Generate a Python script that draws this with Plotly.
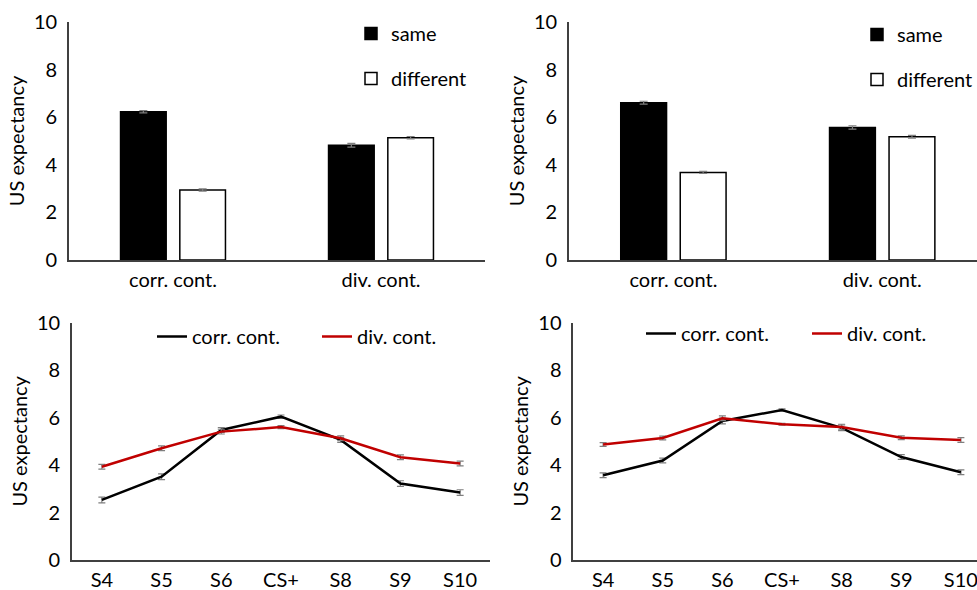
import plotly.graph_objects as go

# ---------------- data ----------------
bar_categories = ["corr. cont.", "div. cont."]
bar_series = ["same", "different"]

# top-left panel
tl_same = [6.23, 4.82]
tl_same_err = [0.05, 0.08]
tl_diff = [2.94, 5.14]
tl_diff_err = [0.05, 0.05]

# top-right panel
tr_same = [6.61, 5.57]
tr_same_err = [0.06, 0.07]
tr_diff = [3.68, 5.18]
tr_diff_err = [0.04, 0.06]

line_categories = ["S4", "S5", "S6", "CS+", "S8", "S9", "S10"]
line_series = ["corr. cont.", "div. cont."]

# bottom-left panel
bl_corr = [2.53, 3.51, 5.48, 6.04, 5.06, 3.22, 2.84]
bl_corr_err = [0.12, 0.12, 0.10, 0.07, 0.10, 0.12, 0.12]
bl_div = [3.93, 4.71, 5.41, 5.60, 5.13, 4.33, 4.07]
bl_div_err = [0.10, 0.10, 0.10, 0.06, 0.10, 0.10, 0.10]

# bottom-right panel
br_corr = [3.57, 4.19, 5.86, 6.32, 5.57, 4.34, 3.70]
br_corr_err = [0.10, 0.10, 0.12, 0.05, 0.12, 0.10, 0.10]
br_div = [4.87, 5.14, 5.97, 5.72, 5.60, 5.15, 5.06]
br_div_err = [0.08, 0.08, 0.10, 0.04, 0.12, 0.08, 0.10]

y_ticks = [0, 2, 4, 6, 8, 10]

# ---------------- styling ----------------
FONT = "Lato"
FS = 20
RED = "#C00000"
ERR = "#7f7f7f"
AX = "#404040"

W, H = 977, 590

fig = go.Figure()


def bar_pair(same, same_err, diff, diff_err, xa, ya, legend):
    fig.add_trace(go.Bar(
        x=bar_categories, y=same, name=bar_series[0],
        marker=dict(color="black", line=dict(color="black", width=1.5)),
        error_y=dict(type="data", array=same_err, color=ERR, thickness=1.2, width=4),
        xaxis=xa, yaxis=ya, legend=legend, legendgroup=legend + "a",
    ))
    fig.add_trace(go.Bar(
        x=bar_categories, y=diff, name=bar_series[1],
        marker=dict(color="white", line=dict(color="black", width=1.5)),
        error_y=dict(type="data", array=diff_err, color=ERR, thickness=1.2, width=4),
        xaxis=xa, yaxis=ya, legend=legend, legendgroup=legend + "b",
    ))


def line_pair(corr, corr_err, div, div_err, xa, ya, legend):
    fig.add_trace(go.Scatter(
        x=line_categories, y=corr, name=line_series[0], mode="lines",
        line=dict(color="black", width=2.5),
        error_y=dict(type="data", array=corr_err, color=ERR, thickness=1.2, width=3.5),
        xaxis=xa, yaxis=ya, legend=legend,
    ))
    fig.add_trace(go.Scatter(
        x=line_categories, y=div, name=line_series[1], mode="lines",
        line=dict(color=RED, width=2.5),
        error_y=dict(type="data", array=div_err, color=ERR, thickness=1.2, width=3.5),
        xaxis=xa, yaxis=ya, legend=legend,
    ))


bar_pair(tl_same, tl_same_err, tl_diff, tl_diff_err, "x", "y", "legend")
bar_pair(tr_same, tr_same_err, tr_diff, tr_diff_err, "x2", "y2", "legend2")
line_pair(bl_corr, bl_corr_err, bl_div, bl_div_err, "x3", "y3", "legend3")
line_pair(br_corr, br_corr_err, br_div, br_div_err, "x4", "y4", "legend4")

axis_common = dict(showline=True, linecolor=AX, linewidth=1.6, showgrid=False,
                   zeroline=False, ticks="", tickfont=dict(family=FONT, size=FS, color="black"))

top_dom = [1 - 260 / H, 1 - 22 / H]
bot_dom = [1 - 560 / H, 1 - 322.7 / H]


def yax(anchor, dom):
    return dict(axis_common, range=[0, 10], tickvals=y_ticks, domain=dom, anchor=anchor,
                ticklabelstandoff=6,
                title=dict(text="US expectancy", font=dict(family=FONT, size=FS, color="black"),
                           standoff=4))


fig.update_layout(
    width=W, height=H,
    margin=dict(l=0, r=0, t=0, b=0, autoexpand=False),
    paper_bgcolor="white", plot_bgcolor="white",
    font=dict(family=FONT, size=FS, color="black"),
    barmode="group", bargap=0.43, bargroupgap=0.23,
    xaxis=dict(axis_common, domain=[69 / W, 485 / W], anchor="y", range=[-0.5, 1.5],
               ticklabelstandoff=1),
    yaxis=yax("x", top_dom),
    xaxis2=dict(axis_common, domain=[569 / W, 1.0], anchor="y2", range=[-0.5, 1.454],
                ticklabelstandoff=1),
    yaxis2=yax("x2", top_dom),
    xaxis3=dict(axis_common, domain=[72 / W, 490 / W], anchor="y3", range=[-0.5, 6.5],
                ticklabelstandoff=1),
    yaxis3=yax("x3", bot_dom),
    xaxis4=dict(axis_common, domain=[573.3 / W, 1.0], anchor="y4", range=[-0.5, 6.27],
                ticklabelstandoff=1),
    yaxis4=yax("x4", bot_dom),
    legend=dict(x=351 / W, y=1 - 14 / H, xanchor="left", yanchor="top",
                bgcolor="rgba(0,0,0,0)", tracegroupgap=16, font=dict(size=FS)),
    legend2=dict(x=857 / W, y=1 - 15 / H, xanchor="left", yanchor="top",
                 bgcolor="rgba(0,0,0,0)", tracegroupgap=16, font=dict(size=FS)),
    legend3=dict(x=152 / W, y=1 - 317 / H, xanchor="left", yanchor="top", orientation="h",
                 bgcolor="rgba(0,0,0,0)", entrywidth=120, entrywidthmode="pixels",
                 font=dict(size=FS)),
    legend4=dict(x=641 / W, y=1 - 314 / H, xanchor="left", yanchor="top", orientation="h",
                 bgcolor="rgba(0,0,0,0)", entrywidth=121, entrywidthmode="pixels",
                 font=dict(size=FS)),
)

fig.write_html("out.html")
